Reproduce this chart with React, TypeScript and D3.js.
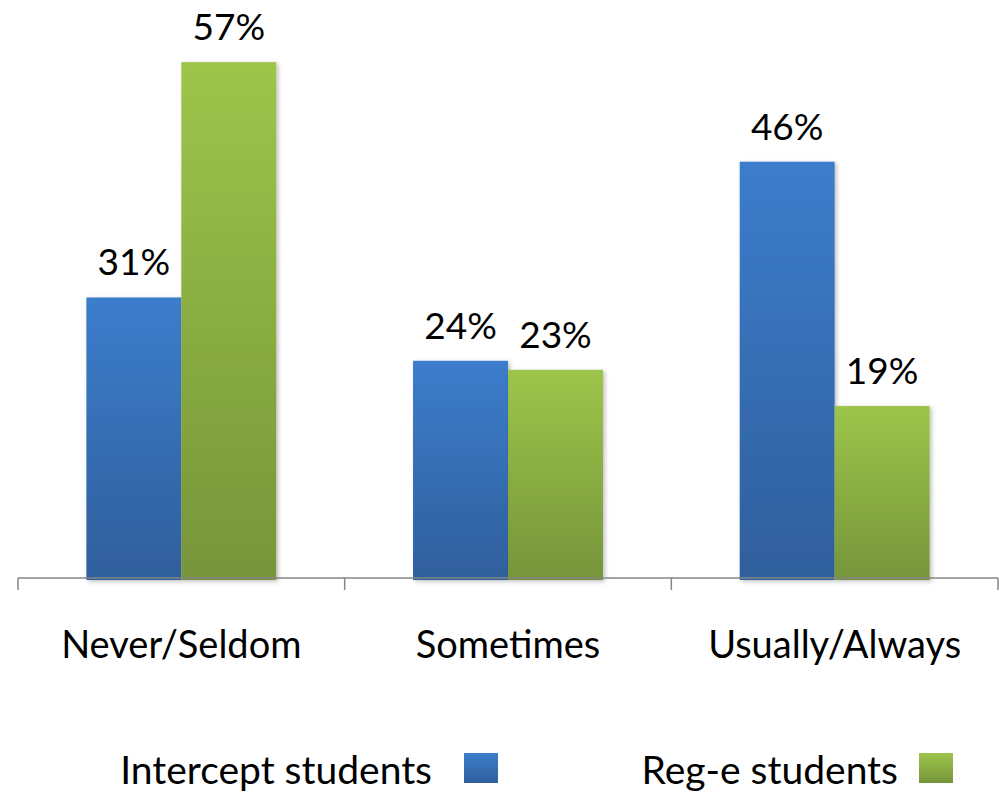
import React from "react";
import * as d3 from "d3";

// Response categories and the share of each student group (percent)
const categories = ["Never/Seldom", "Sometimes", "Usually/Always"];
const seriesNames = ["Intercept students", "Reg-e students"];
const interceptValues = [31, 24, 46];
const regeValues = [57, 23, 19];

const W = 1000;
const H = 791;
const FONT = "Lato, 'Open Sans', sans-serif";

const palette = [
  { id: "gradBlue", top: "#3c7dcc", bottom: "#2f5f9c" },
  { id: "gradGreen", top: "#9dc54a", bottom: "#76953a" },
];

export default function App() {
  const seriesValues = [interceptValues, regeValues];
  const baseY = 578;

  const x0 = d3.scaleBand<string>().domain(categories).range([18, 998]).padding(0);
  const x1 = d3
    .scaleBand<string>()
    .domain(seriesNames)
    .range([0, x0.bandwidth()])
    .paddingInner(0)
    .paddingOuter(0.72);
  const y = d3.scaleLinear().domain([0, 60]).range([baseY, 35]);

  const tickXs = [...categories.map((c) => x0(c) as number), 998];

  return (
    <svg
      width={W}
      height={H}
      style={{ position: "absolute", left: 0, top: 0, background: "#fff" }}
      fontFamily={FONT}
    >
      <defs>
        {palette.map((p) => (
          <linearGradient key={p.id} id={p.id} x1="0" y1="0" x2="0" y2="1">
            <stop offset="0%" stopColor={p.top} />
            <stop offset="100%" stopColor={p.bottom} />
          </linearGradient>
        ))}
        <filter id="barShadow" x="-10%" y="-10%" width="130%" height="130%">
          <feDropShadow dx="2" dy="1.5" stdDeviation="2" floodColor="#000" floodOpacity="0.25" />
        </filter>
      </defs>

      {/* bars */}
      {categories.map((cat, ci) => (
        <g key={cat} transform={`translate(${x0(cat)},0)`}>
          {seriesNames.map((s, si) => {
            const v = seriesValues[si][ci];
            const bx = x1(s) as number;
            const bw = x1.bandwidth();
            return (
              <g key={s}>
                <rect
                  x={bx}
                  y={y(v)}
                  width={bw}
                  height={baseY - y(v) + 2}
                  fill={`url(#${palette[si].id})`}
                  filter="url(#barShadow)"
                />
                <text
                  x={bx + bw / 2}
                  y={y(v) - 22}
                  textAnchor="middle"
                  fontSize={37}
                  fill="#000"
                >
                  {`${v}%`}
                </text>
              </g>
            );
          })}
        </g>
      ))}

      {/* category axis */}
      <line x1={18} x2={998} y1={baseY} y2={baseY} stroke="#868686" strokeWidth={1.5} />
      {tickXs.map((tx, i) => (
        <line key={i} x1={tx} x2={tx} y1={baseY} y2={baseY + 12} stroke="#868686" strokeWidth={1.5} />
      ))}
      {categories.map((cat) => (
        <text
          key={cat}
          x={(x0(cat) as number) + x0.bandwidth() / 2}
          y={658}
          textAnchor="middle"
          fontSize={38}
          fill="#000"
        >
          {cat}
        </text>
      ))}

      {/* legend */}
      {seriesNames.map((s, si) => {
        const textEnd = si === 0 ? 432 : 898;
        const swX = si === 0 ? 464 : 919;
        return (
          <g key={s}>
            <text x={textEnd} y={784} textAnchor="end" fontSize={39} fill="#000">
              {s}
            </text>
            <rect x={swX} y={753} width={34} height={30} fill={`url(#${palette[si].id})`} />
          </g>
        );
      })}
    </svg>
  );
}
